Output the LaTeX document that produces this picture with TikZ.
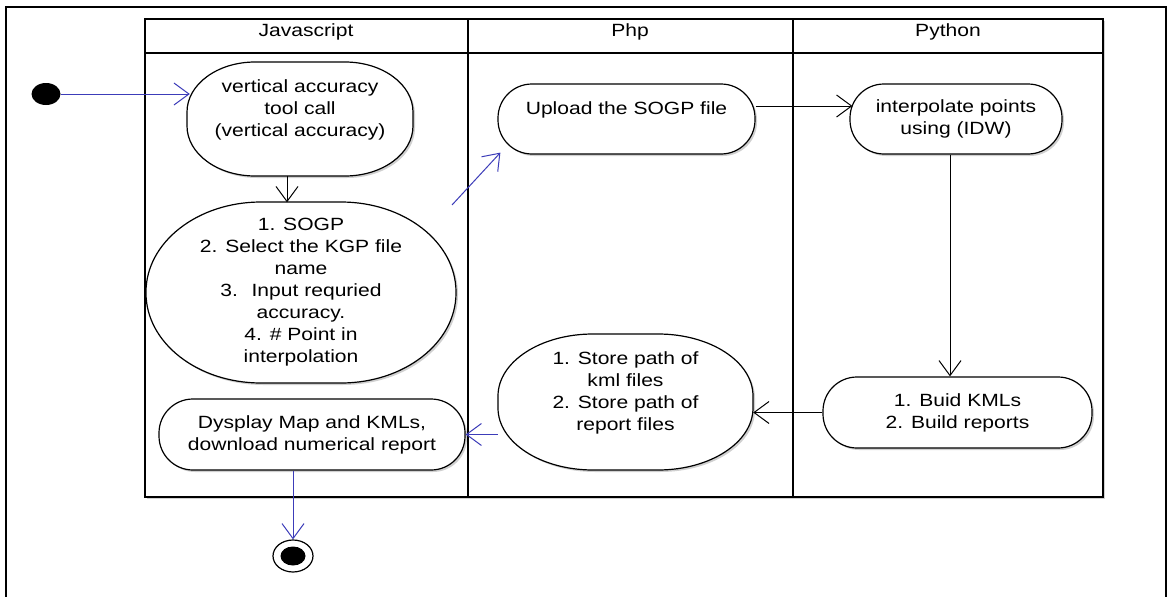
\documentclass[tikz,border=0pt]{standalone}
\usepackage{fontspec}
\setmainfont{Liberation Sans}[FakeStretch=1.19]
\usetikzlibrary{arrows.meta,shapes.geometric,shadows,calc}
\definecolor{flowblue}{RGB}{60,60,185}
\begin{document}
\begin{tikzpicture}[x=1pt,y=-1pt,
  every node/.style={font=\fontsize{17.7}{22}\selectfont},
  shad/.style={drop shadow={shadow xshift=2pt,shadow yshift=-2pt,opacity=0.3,fill=black!60}},
  act/.style={draw,line width=1.2pt,fill=white,align=center,inner sep=0pt,
    rounded corners=34pt,minimum height=71pt,shad},
  ovaltext/.style={align=center,inner sep=0pt},
  ovalshape/.style={draw,line width=1.2pt,fill=white,shad},
  hdr/.style={inner sep=0pt},
  startdot/.style={ellipse,fill=black,minimum width=29pt,minimum height=22pt,inner sep=0pt},
  endring/.style={ellipse,draw,line width=1.2pt,fill=white,minimum width=40pt,minimum height=32pt,inner sep=0pt},
  enddot/.style={ellipse,fill=black,minimum width=25pt,minimum height=19pt,inner sep=0pt},
  flow/.style={line width=1pt,-{Straight Barb[length=15pt,width=22pt]}},
  bflow/.style={flow,draw=flowblue},
  frame/.style={line width=1.6pt},
  lane/.style={line width=1.3pt}
]
\useasboundingbox (0,0) rectangle (1168,597);
% outer frame
\draw[frame] (6,597) -- (6,7) -- (1166,7) -- (1166,597);
% swimlanes
\filldraw[lane,fill=white,shad] (145,19) rectangle (1103,497);
\draw[lane] (145,53) -- (1103,53);
\draw[lane] (468,19) -- (468,497);
\draw[lane] (793,19) -- (793,497);
\node[hdr] (hjs) at (306,32) {Javascript};
\node[hdr] (hphp) at (630,32) {Php};
\node[hdr] (hpy) at (948,32) {Python};
% oval outlines (elliptical-cornered boxes)
\draw[ovalshape] (187,126) -- (187,112)
  arc[start angle=180,end angle=270,x radius=68,y radius=50] -- (345,62)
  arc[start angle=270,end angle=360,x radius=68,y radius=50] -- (413,126)
  arc[start angle=0,end angle=90,x radius=68,y radius=50] -- (255,176)
  arc[start angle=90,end angle=180,x radius=68,y radius=50] -- cycle;
\draw[ovalshape] (146,293) -- (146,292)
  arc[start angle=180,end angle=270,x radius=115,y radius=90] -- (341,202)
  arc[start angle=270,end angle=360,x radius=115,y radius=90] -- (456,293)
  arc[start angle=0,end angle=90,x radius=115,y radius=90] -- (261,383)
  arc[start angle=90,end angle=180,x radius=115,y radius=90] -- cycle;
\draw[ovalshape] (498,408) -- (498,396)
  arc[start angle=180,end angle=270,x radius=95,y radius=62] -- (658,334)
  arc[start angle=270,end angle=360,x radius=95,y radius=62] -- (753,408)
  arc[start angle=0,end angle=90,x radius=95,y radius=62] -- (593,470)
  arc[start angle=90,end angle=180,x radius=95,y radius=62] -- cycle;
% nodes
\node[startdot] (start) at (46,94) {};
\node[ovaltext,minimum width=226pt,minimum height=114pt] (vert) at (300,119)
  {vertical accuracy\\tool call\\(vertical accuracy)\\\mbox{}};
\node[ovaltext,minimum width=310pt,minimum height=180pt] (sogp) at (301,292.5)
  {1. SOGP\\2. Select the KGP file\\name\\3.~ Input requried\\accuracy.\\4. \# Point in\\interpolation};
\node[act,minimum width=306pt] (dysp) at (312,434.5)
  {Dysplay Map and KMLs,\\download numerical report};
\node[act,minimum width=257pt,minimum height=70pt] (upload) at (626.5,119)
  {Upload the SOGP file\\\mbox{}};
\node[ovaltext,minimum width=255pt,minimum height=136pt] (store) at (625.5,402)
  {1. Store path of\\kml files\\2. Store path of\\report files\\\mbox{}};
\node[act,minimum width=212pt,minimum height=70pt] (interp) at (956,119)
  {interpolate points\\using (IDW)};
\node[act,minimum width=269pt] (build) at (957.5,412.5)
  {1. Buid KMLs\\2. Build reports};
\node[endring] (end) at (293,556) {};
\node[enddot] (enddotin) at (end) {};
% connectors
\draw[bflow] (start.east) -- ([xshift=3pt]vert.west |- start);
\draw[flow] ([xshift=-13pt]vert.south) -- ([xshift=-13pt]vert.south |- sogp.north);
\coordinate (sogpout) at (452,205);
\draw[bflow] (sogpout) -- ([xshift=3pt,yshift=2pt]upload.south west);
\draw[flow] ([yshift=13pt]upload.east) -- ([xshift=3pt,yshift=13pt]upload.east -| interp.west);
\draw[flow] ([xshift=-6pt]interp.south) -- ([xshift=-6pt]interp.south |- build.north);
\draw[flow] (build.west) -- (build.west -| store.east);
\draw[bflow] (store.west |- dysp.east) -- (dysp.east);
\draw[bflow] (dysp.south -| end) -- (end.north);
\end{tikzpicture}
\end{document}
